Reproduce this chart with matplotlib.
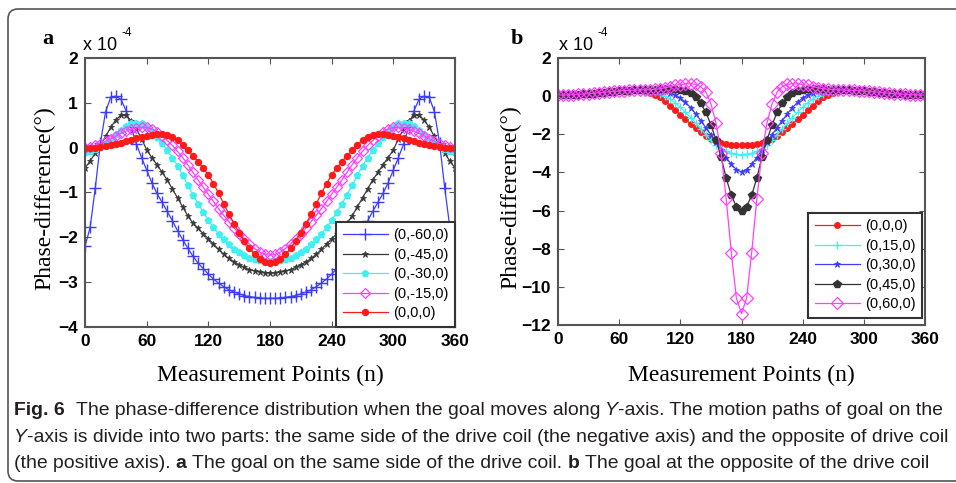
import numpy as np
import matplotlib
matplotlib.use('Agg')
import matplotlib.pyplot as plt
from matplotlib import font_manager
from matplotlib.patches import FancyBboxPatch

W, H = 956, 483

# measurement points (n), every 5 degrees
points = np.arange(0, 365, 5)

# ---- panel a: goal on the same side of the drive coil (x 1e-4 deg) ----
labels_a = ['(0,-60,0)', '(0,-45,0)', '(0,-30,0)', '(0,-15,0)', '(0,0,0)']
a_m60 = [-2.20, -1.78, -0.90, 0.10, 0.80, 1.12, 1.15, 1.08, 0.82, 0.45,
         0.08, -0.22, -0.50, -0.78, -1.02, -1.22, -1.42, -1.63, -1.85, -2.05,
         -2.24, -2.42, -2.57, -2.70, -2.82, -2.93, -3.02, -3.10, -3.17, -3.22,
         -3.26, -3.30, -3.32, -3.34, -3.35, -3.36, -3.36,
         -3.36, -3.35, -3.34, -3.32, -3.30, -3.26, -3.22, -3.17, -3.10, -3.02,
         -2.93, -2.82, -2.70, -2.57, -2.42, -2.24, -2.05, -1.85, -1.63, -1.42,
         -1.22, -1.02, -0.78, -0.50, -0.22, 0.08, 0.45, 0.82, 1.08, 1.15,
         1.12, 0.80, 0.10, -0.90, -1.78, -2.20]
a_m45 = [-0.45, -0.30, -0.12, 0.05, 0.25, 0.45, 0.62, 0.72, 0.72, 0.60,
         0.42, 0.20, -0.05, -0.22, -0.38, -0.55, -0.72, -0.92, -1.12, -1.32,
         -1.52, -1.68, -1.80, -1.92, -2.03, -2.15, -2.27, -2.38, -2.47, -2.55,
         -2.61, -2.67, -2.72, -2.75, -2.77, -2.79, -2.80,
         -2.79, -2.77, -2.75, -2.72, -2.67, -2.61, -2.55, -2.47, -2.38, -2.27,
         -2.15, -2.03, -1.92, -1.80, -1.68, -1.52, -1.32, -1.12, -0.92, -0.72,
         -0.55, -0.38, -0.22, -0.05, 0.20, 0.42, 0.60, 0.72, 0.72, 0.62,
         0.45, 0.25, 0.05, -0.12, -0.30, -0.45]
a_m30 = [-0.10, -0.08, -0.04, 0.02, 0.10, 0.20, 0.30, 0.40, 0.48, 0.54,
         0.56, 0.54, 0.47, 0.37, 0.24, 0.10, -0.06, -0.22, -0.40, -0.62,
         -0.84, -1.05, -1.25, -1.44, -1.62, -1.78, -1.92, -2.04, -2.15, -2.25,
         -2.33, -2.40, -2.45, -2.49, -2.51, -2.52, -2.52,
         -2.52, -2.51, -2.49, -2.45, -2.40, -2.33, -2.25, -2.15, -2.04, -1.92,
         -1.78, -1.62, -1.44, -1.25, -1.05, -0.84, -0.62, -0.40, -0.22, -0.06,
         0.10, 0.24, 0.37, 0.47, 0.54, 0.56, 0.54, 0.48, 0.40, 0.30,
         0.20, 0.10, 0.02, -0.04, -0.08, -0.10]
a_m15 = [0.00, 0.02, 0.05, 0.09, 0.14, 0.20, 0.26, 0.32, 0.37, 0.41,
         0.44, 0.45, 0.45, 0.42, 0.36, 0.27, 0.16, 0.05, -0.08, -0.22,
         -0.38, -0.55, -0.72, -0.88, -1.04, -1.20, -1.36, -1.51, -1.65, -1.79,
         -1.92, -2.04, -2.15, -2.25, -2.33, -2.38, -2.40,
         -2.38, -2.33, -2.25, -2.15, -2.04, -1.92, -1.79, -1.65, -1.51, -1.36,
         -1.20, -1.04, -0.88, -0.72, -0.55, -0.38, -0.22, -0.08, 0.05, 0.16,
         0.27, 0.36, 0.42, 0.45, 0.45, 0.44, 0.41, 0.37, 0.32, 0.26,
         0.20, 0.14, 0.09, 0.05, 0.02, 0.00]
a_0 = [0.00, 0.00, 0.00, 0.01, 0.03, 0.05, 0.08, 0.11, 0.14, 0.18,
       0.21, 0.24, 0.27, 0.29, 0.30, 0.30, 0.28, 0.24, 0.17, 0.06,
       -0.06, -0.18, -0.31, -0.45, -0.61, -0.80, -1.02, -1.25, -1.48, -1.70,
       -1.90, -2.08, -2.24, -2.38, -2.48, -2.55, -2.58,
       -2.55, -2.48, -2.38, -2.24, -2.08, -1.90, -1.70, -1.48, -1.25, -1.02,
       -0.80, -0.61, -0.45, -0.31, -0.18, -0.06, 0.06, 0.17, 0.24, 0.28,
       0.30, 0.30, 0.29, 0.27, 0.24, 0.21, 0.18, 0.14, 0.11, 0.08,
       0.05, 0.03, 0.01, 0.00, 0.00, 0.00]

# ---- panel b: goal at the opposite of the drive coil (x 1e-4 deg) ----
labels_b = ['(0,0,0)', '(0,15,0)', '(0,30,0)', '(0,45,0)', '(0,60,0)']
b_0 = [0.05, 0.06, 0.07, 0.08, 0.10, 0.12, 0.14, 0.17, 0.20, 0.23,
       0.26, 0.29, 0.31, 0.33, 0.34, 0.33, 0.30, 0.25, 0.18, 0.08,
       -0.05, -0.25, -0.50, -0.75, -0.98, -1.22, -1.45, -1.68, -1.90, -2.08,
       -2.24, -2.37, -2.46, -2.52, -2.55, -2.57, -2.57,
       -2.57, -2.55, -2.52, -2.46, -2.37, -2.24, -2.08, -1.90, -1.68, -1.45,
       -1.22, -0.98, -0.75, -0.50, -0.25, -0.05, 0.08, 0.18, 0.25, 0.30,
       0.33, 0.34, 0.33, 0.31, 0.29, 0.26, 0.23, 0.20, 0.17, 0.14,
       0.12, 0.10, 0.08, 0.07, 0.06, 0.05]
b_15 = [0.05, 0.05, 0.06, 0.07, 0.08, 0.10, 0.12, 0.14, 0.17, 0.20,
        0.22, 0.25, 0.27, 0.29, 0.30, 0.30, 0.30, 0.28, 0.25, 0.20,
        0.12, 0.00, -0.15, -0.35, -0.58, -0.85, -1.12, -1.42, -1.72, -2.02,
        -2.30, -2.55, -2.75, -2.90, -3.00, -3.05, -3.07,
        -3.05, -3.00, -2.90, -2.75, -2.55, -2.30, -2.02, -1.72, -1.42, -1.12,
        -0.85, -0.58, -0.35, -0.15, 0.00, 0.12, 0.20, 0.25, 0.28, 0.30,
        0.30, 0.30, 0.29, 0.27, 0.25, 0.22, 0.20, 0.17, 0.14, 0.12,
        0.10, 0.08, 0.07, 0.06, 0.05, 0.05]
b_30 = [0.04, 0.05, 0.05, 0.06, 0.08, 0.09, 0.11, 0.13, 0.16, 0.19,
        0.21, 0.24, 0.26, 0.28, 0.30, 0.31, 0.32, 0.32, 0.32, 0.31,
        0.29, 0.25, 0.18, 0.06, -0.10, -0.32, -0.60, -0.92, -1.28, -1.65,
        -2.02, -2.42, -2.82, -3.22, -3.58, -3.85, -3.97,
        -3.85, -3.58, -3.22, -2.82, -2.42, -2.02, -1.65, -1.28, -0.92, -0.60,
        -0.32, -0.10, 0.06, 0.18, 0.25, 0.29, 0.31, 0.32, 0.32, 0.32,
        0.31, 0.30, 0.28, 0.26, 0.24, 0.21, 0.19, 0.16, 0.13, 0.11,
        0.09, 0.08, 0.06, 0.05, 0.05, 0.04]
b_45 = [0.04, 0.04, 0.05, 0.06, 0.07, 0.09, 0.11, 0.13, 0.15, 0.18,
        0.21, 0.23, 0.25, 0.27, 0.29, 0.30, 0.31, 0.32, 0.33, 0.34,
        0.35, 0.36, 0.36, 0.35, 0.32, 0.26, 0.15, -0.05, -0.38, -0.85,
        -1.50, -2.30, -3.20, -4.30, -5.20, -5.80, -6.02,
        -5.80, -5.20, -4.30, -3.20, -2.30, -1.50, -0.85, -0.38, -0.05, 0.15,
        0.26, 0.32, 0.35, 0.36, 0.36, 0.35, 0.34, 0.33, 0.32, 0.31,
        0.30, 0.29, 0.27, 0.25, 0.23, 0.21, 0.18, 0.15, 0.13, 0.11,
        0.09, 0.07, 0.06, 0.05, 0.04, 0.04]
b_60 = [0.06, 0.06, 0.07, 0.08, 0.09, 0.11, 0.13, 0.15, 0.18, 0.20,
        0.23, 0.25, 0.27, 0.29, 0.30, 0.31, 0.32, 0.33, 0.34, 0.36,
        0.39, 0.44, 0.50, 0.56, 0.61, 0.64, 0.65, 0.62, 0.50, 0.22,
        -0.40, -1.40, -3.00, -5.40, -8.20, -10.60, -11.40,
        -10.60, -8.20, -5.40, -3.00, -1.40, -0.40, 0.22, 0.50, 0.62, 0.65,
        0.64, 0.61, 0.56, 0.50, 0.44, 0.39, 0.36, 0.34, 0.33, 0.32,
        0.31, 0.30, 0.29, 0.27, 0.25, 0.23, 0.20, 0.18, 0.15, 0.13,
        0.11, 0.09, 0.08, 0.07, 0.06, 0.06]

xticks = [0, 60, 120, 180, 240, 300, 360]
yticks_a = [-4, -3, -2, -1, 0, 1, 2]
yticks_b = [-12, -10, -8, -6, -4, -2, 0, 2]

series_a = [a_m60, a_m45, a_m30, a_m15, a_0]
series_b = [b_0, b_15, b_30, b_45, b_60]

style_a = [dict(color='#3c3cff', marker='+', ms=8, mew=1.0),
           dict(color='#3a3a3a', marker='*', ms=4.5, mew=0.6),
           dict(color='#3ff0f0', marker='p', ms=5),
           dict(color='#ff40ff', marker='D', ms=5, mfc='none', mew=0.9),
           dict(color='#ff1a1a', marker='o', ms=4.3)]
style_b = [dict(color='#ff1a1a', marker='o', ms=4.0),
           dict(color='#3ff0f0', marker='+', ms=6, mew=1.0),
           dict(color='#3c3cff', marker='*', ms=5, mew=0.6),
           dict(color='#333333', marker='p', ms=5.5),
           dict(color='#ff40ff', marker='D', ms=6, mfc='none', mew=0.9)]

plt.rcParams['font.family'] = ['Liberation Sans', 'DejaVu Sans']
serif = ['Liberation Serif', 'DejaVu Serif']

fig = plt.figure(figsize=(W / 100, H / 100), dpi=100)


def px_axes(left, top, right, bottom):
    return fig.add_axes([left / W, 1 - bottom / H, (right - left) / W, (bottom - top) / H])


def style_axes(ax, yticks, ylim):
    ax.set_xlim(0, 360)
    ax.set_ylim(*ylim)
    ax.set_xticks(xticks)
    ax.set_yticks(yticks)
    ax.tick_params(direction='in', length=4, width=0.8, color='#555555',
                   top=True, right=True, labelsize=12.5, pad=5)
    for lab in ax.get_xticklabels() + ax.get_yticklabels():
        lab.set_fontweight('bold')
    for sp in ax.spines.values():
        sp.set_color('#555555')
        sp.set_linewidth(1.5)


def add_legend(ax, anchor):
    leg = ax.legend(loc='lower right', bbox_to_anchor=anchor, borderaxespad=0,
                    fontsize=10.5, handlelength=3.1, handletextpad=0.35, labelspacing=0.38,
                    borderpad=0.45, fancybox=False, framealpha=1)
    leg.get_frame().set_edgecolor('#333333')
    leg.get_frame().set_linewidth(1.5)


ax_a = px_axes(85, 58, 455, 327)
for vals, lab, st in zip(series_a, labels_a, style_a):
    ax_a.plot(points, vals, lw=0.9, label=lab, **st)
style_axes(ax_a, yticks_a, (-4, 2))
ax_a.set_xlabel('Measurement Points (n)', family=serif, fontsize=17)
ax_a.xaxis.set_label_coords(0.5, -0.14)
ax_a.set_ylabel('Phase-difference(°)', family=serif, fontsize=17)
ax_a.yaxis.set_label_coords(-0.08, 0.48)
add_legend(ax_a, (1.0, 0.0))

ax_b = px_axes(558, 58, 925, 325)
for vals, lab, st in zip(series_b, labels_b, style_b):
    ax_b.plot(points, vals, lw=0.9, label=lab, **st)
style_axes(ax_b, yticks_b, (-12, 2))
ax_b.set_xlabel('Measurement Points (n)', family=serif, fontsize=17)
ax_b.xaxis.set_label_coords(0.5, -0.15)
ax_b.set_ylabel('Phase-difference(°)', family=serif, fontsize=17)
ax_b.yaxis.set_label_coords(-0.1, 0.48)
add_legend(ax_b, (0.992, 0.026))


def ftext(x, y, s, **kw):
    return fig.text(x / W, 1 - y / H, s, **kw)


# panel letters and exponent labels
ftext(42, 44, 'a', family=serif, fontsize=16, fontweight='bold', va='baseline')
ftext(511, 44, 'b', family=serif, fontsize=16, fontweight='bold', va='baseline')
for x0 in (83, 559):
    ftext(x0, 50, 'x 10', fontsize=13, va='baseline')
    ftext(x0 + 38, 36, '-4', fontsize=8.5, va='baseline')

# rounded frame around the figure
frame = FancyBboxPatch((8, 2), 1100, 472, boxstyle='round,pad=0,rounding_size=10',
                       transform=None, fill=False, edgecolor='#555555', lw=1.2)
fig.patches.append(frame)

# caption
names = {f.name for f in font_manager.fontManager.ttflist}
cap_family = 'Liberation Sans Narrow' if 'Liberation Sans Narrow' in names else 'Liberation Sans'
cap_color = '#231f20'
caption = [
    [('Fig. 6', 'bold'), ('  The phase-difference distribution when the goal moves along ', 'normal'),
     ('Y', 'italic'), ('-axis. The motion paths of goal on the', 'normal')],
    [('Y', 'italic'), ('-axis is divide into two parts: the same side of the drive coil '
                       '(the negative axis) and the opposite of drive coil', 'normal')],
    [('(the positive axis). ', 'normal'), ('a', 'bold'),
     (' The goal on the same side of the drive coil. ', 'normal'), ('b', 'bold'),
     (' The goal at the opposite of the drive coil', 'normal')],
]
baselines = [415, 442, 468]
renderer = fig.canvas.get_renderer()


def draw_caption(size):
    made = []
    probe1 = fig.text(0, 0, 'a a', fontsize=size, family=cap_family)
    probe2 = fig.text(0, 0, 'aa', fontsize=size, family=cap_family)
    space_w = probe1.get_window_extent(renderer).width - probe2.get_window_extent(renderer).width
    probe1.remove()
    probe2.remove()
    ends = []
    for runs, yb in zip(caption, baselines):
        x = 14
        for txt, style in runs:
            lead = len(txt) - len(txt.lstrip(' '))
            trail = len(txt) - len(txt.rstrip(' '))
            x += lead * space_w
            kw = dict(fontsize=size, family=cap_family, color=cap_color, va='baseline')
            if style == 'bold':
                kw['fontweight'] = 'bold'
            elif style == 'italic':
                kw['fontstyle'] = 'italic'
            t = ftext(x, yb, txt.strip(' '), **kw)
            made.append(t)
            x = t.get_window_extent(renderer).x1 + trail * space_w
        ends.append(x)
    return made, ends


made, ends = draw_caption(12.5)
size = 12.5 * (942 - 14) / (ends[0] - 14)
for t in made:
    t.remove()
draw_caption(size)

fig.savefig('out.png', dpi=100, facecolor='white')
